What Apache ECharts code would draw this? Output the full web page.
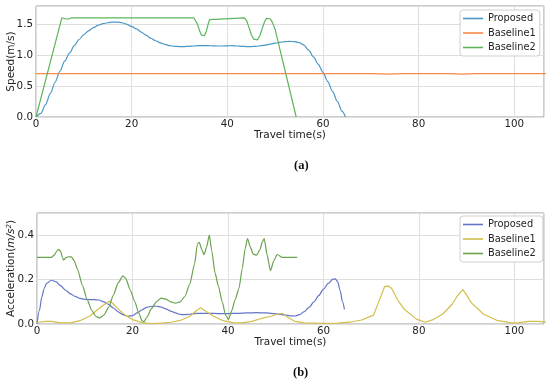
<!DOCTYPE html>
<html>
<head>
<meta charset="utf-8">
<script src="https://cdn.jsdelivr.net/npm/echarts@6/dist/echarts.min.js"></script>
<style>
html,body{margin:0;padding:0;background:#fff;}
#c{width:550px;height:386px;}
</style>
</head>
<body>
<div id="c"></div>
<script>
// ---------- data ----------
const seriesNames = ['Proposed', 'Baseline1', 'Baseline2'];
const xTicks = [0, 20, 40, 60, 80, 100];

// (a) speed, [time s, speed m/s]
const speedProposed = [[0,0],[1,0.06],[2,0.2],[3,0.38],[4,0.56],[5,0.74],[6,0.9],[7,1.03],[8,1.15],[9,1.25],[10,1.33],[11,1.39],[12,1.44],[13,1.48],[14,1.505],[15,1.52],[16,1.53],[17,1.53],[18,1.52],[19,1.495],[20,1.46],[21,1.42],[22,1.37],[23,1.32],[24,1.27],[25,1.23],[26,1.195],[27,1.17],[28,1.15],[29,1.14],[30,1.135],[31,1.135],[32,1.14],[33,1.145],[34,1.15],[35,1.152],[36,1.15],[37,1.148],[38,1.145],[39,1.145],[40,1.148],[41,1.15],[42,1.145],[43,1.14],[44,1.135],[45,1.135],[46,1.14],[47,1.15],[48,1.16],[49,1.175],[50,1.19],[51,1.205],[52,1.215],[53,1.22],[54,1.215],[55,1.2],[56,1.16],[57,1.08],[58,0.97],[59,0.85],[60,0.72],[61,0.57],[62,0.41],[63,0.25],[64,0.09],[64.7,0]];
const speedBaseline1 = [[0,0.7],[70,0.7],[72,0.695],[73.5,0.69],[75,0.695],[77,0.7],[86,0.7],[88,0.695],[89,0.69],[90.5,0.695],[92,0.7],[107,0.7]];
const speedBaseline2 = [[0,0],[5.4,1.6],[5.8,1.595],[6.2,1.58],[6.5,1.57],[6.9,1.58],[7.4,1.6],[33,1.6],[33.4,1.57],[33.8,1.49],[34.2,1.39],[34.6,1.32],[34.9,1.295],[35.2,1.31],[35.6,1.38],[36.0,1.5],[36.3,1.57],[36.6,1.6],[43.6,1.6],[44.0,1.56],[44.5,1.45],[45.0,1.33],[45.5,1.255],[45.9,1.232],[46.3,1.245],[46.8,1.31],[47.3,1.43],[47.8,1.54],[48.2,1.59],[48.6,1.6],[49.0,1.58],[49.4,1.53],[49.7,1.47],[50.0,1.41],[54.4,0]];

// (b) acceleration, [time s, acceleration m/s^2]
const accProposed = [[0,0],[0.5,0.06],[1,0.12],[1.5,0.16],[2,0.183],[3,0.197],[4,0.19],[5,0.172],[6,0.152],[7,0.136],[8,0.124],[9,0.115],[10,0.111],[11,0.11],[12,0.11],[13,0.108],[14,0.1],[15,0.088],[16,0.072],[17,0.055],[18,0.042],[19,0.035],[20,0.038],[21,0.05],[22,0.064],[23,0.075],[24,0.08],[25,0.08],[26,0.076],[27,0.068],[28,0.058],[29,0.05],[30,0.043],[31,0.042],[32,0.044],[33,0.047],[34,0.048],[36,0.048],[38,0.047],[40,0.047],[42,0.048],[44,0.05],[46,0.051],[48,0.05],[50,0.046],[52,0.04],[53,0.037],[54,0.036],[55,0.042],[56,0.056],[57,0.075],[58,0.1],[59,0.128],[60,0.157],[61,0.183],[62,0.202],[62.5,0.203],[63,0.19],[63.5,0.15],[64,0.1],[64.4,0.066]];
const accBaseline1 = [[0,0.008],[2,0.012],[3,0.012],[5,0.005],[7,0.005],[9,0.015],[11,0.035],[13,0.07],[14.5,0.095],[15.3,0.103],[16,0.09],[17,0.068],[18.5,0.04],[20,0.02],[22,0.006],[24,0.002],[26,0.004],[28,0.008],[30,0.016],[32,0.035],[33.5,0.062],[34.3,0.073],[35.5,0.055],[37,0.035],[39,0.015],[41,0.006],[43,0.005],[45,0.012],[47,0.025],[49,0.035],[50.5,0.045],[51.5,0.048],[52.5,0.03],[54,0.012],[56,0.005],[60,0.003],[63,0.004],[66,0.01],[68,0.018],[70.5,0.04],[72.8,0.168],[73.5,0.172],[74.3,0.16],[75.5,0.11],[77,0.065],[79.5,0.022],[81.3,0.008],[83,0.02],[85,0.045],[87,0.09],[88,0.125],[89.2,0.155],[90,0.13],[91,0.095],[93.5,0.045],[96.5,0.015],[99.5,0.005],[101,0.006],[103,0.012],[105,0.012],[107,0.008]];
const accBaseline2 = [[0,0.3],[1,0.3],[2,0.3],[3,0.3],[3.6,0.31],[4.2,0.33],[4.6,0.336],[5.0,0.325],[5.3,0.3],[5.6,0.288],[6.0,0.298],[6.6,0.303],[7.2,0.302],[7.8,0.285],[8.5,0.245],[9.5,0.175],[10.5,0.11],[11.5,0.06],[12.3,0.035],[13.1,0.027],[14,0.04],[15,0.075],[16,0.13],[17,0.185],[18,0.217],[18.6,0.205],[19.5,0.155],[20.5,0.1],[21.3,0.05],[22,0.015],[22.4,0.01],[23,0.03],[24,0.07],[25,0.1],[26,0.117],[27,0.112],[28,0.1],[29,0.094],[30,0.1],[31,0.125],[32,0.18],[33,0.27],[33.6,0.36],[34.0,0.368],[34.5,0.335],[35,0.312],[35.5,0.345],[36.1,0.4],[36.6,0.33],[37.3,0.23],[38,0.17],[38.8,0.1],[39.5,0.04],[40.1,0.02],[40.8,0.06],[41.5,0.11],[42.3,0.16],[43,0.25],[43.6,0.34],[44.1,0.385],[44.7,0.345],[45.3,0.315],[46,0.31],[46.7,0.335],[47.2,0.37],[47.6,0.385],[48.2,0.31],[48.9,0.24],[49.6,0.285],[50.3,0.313],[51.4,0.3],[54.5,0.3]];

// ---------- styling ----------
const topColors = ['#4a97c6', '#f7894a', '#5bb55b'];
const botColors = ['#6373c6', '#d3be4c', '#6aa24e'];
const txt = '#222';
const gridCol = '#dedede';
const borderCol = '#9a9a9a';
const tickFont = 10.3;
const labelFont = 10.5;

const chart = echarts.init(document.getElementById('c'), null, {renderer: 'canvas'});

function xAxisFor(gi) {
  return {
    type: 'value', gridIndex: gi, min: 0, max: 106.2, interval: 20,
    name: 'Travel time(s)', nameLocation: 'middle', nameGap: 11,
    nameTextStyle: {fontFamily: 'DejaVu Sans', fontSize: labelFont, color: txt},
    axisLine: {show: false}, axisTick: {show: false},
    axisLabel: {fontFamily: 'DejaVu Sans', fontSize: tickFont, color: txt, margin: 2, showMaxLabel: false,
      formatter: v => xTicks.includes(v) ? String(v) : ''},
    splitLine: {show: true, lineStyle: {color: gridCol, width: 1}}
  };
}

function yAxisFor(gi, max, step) {
  return {
    type: 'value', gridIndex: gi, min: 0, max: max, interval: step,
    axisLine: {show: false}, axisTick: {show: false},
    axisLabel: {fontFamily: 'DejaVu Sans', fontSize: tickFont, color: txt, margin: 3, showMaxLabel: false,
      formatter: v => (Math.abs(v / step - Math.round(v / step)) < 1e-6) ? v.toFixed(1) : ''},
    splitLine: {show: true, lineStyle: {color: gridCol, width: 1}}
  };
}

function line(name, data, color, xi, smooth) {
  return {
    type: 'line', name: name, data: data, xAxisIndex: xi, yAxisIndex: xi,
    showSymbol: false, symbol: 'none', smooth: smooth, smoothMonotone: 'x',
    lineStyle: {color: color, width: 1.2}, itemStyle: {color: color},
    animation: false
  };
}

function legendFor(names, top) {
  return {
    data: names, orient: 'vertical', left: 460, top: top,
    icon: 'rect', itemWidth: 20, itemHeight: 1.6, itemGap: 3.5,
    padding: [3, 4, 3, 3], borderColor: '#cfcfcf', borderWidth: 1, borderRadius: 3,
    backgroundColor: '#fff',
    textStyle: {fontFamily: 'DejaVu Sans', fontSize: 9.8, color: txt, lineHeight: 11},
    selectedMode: false
  };
}

const botNames = seriesNames.map(n => n + ' ');

const option = {
  backgroundColor: '#fff',
  animation: false,
  grid: [
    {left: 36, right: 6, top: 6, height: 111, show: true, borderColor: borderCol, borderWidth: 1, backgroundColor: 'transparent', containLabel: false, outerBoundsMode: 'none'},
    {left: 37, right: 6, top: 213, height: 111, show: true, borderColor: borderCol, borderWidth: 1, backgroundColor: 'transparent', containLabel: false, outerBoundsMode: 'none'}
  ],
  xAxis: [xAxisFor(0), xAxisFor(1)],
  yAxis: [yAxisFor(0, 1.79, 0.5), yAxisFor(1, 0.5, 0.2)],
  legend: [legendFor(seriesNames, 10), legendFor(botNames, 216)],
  series: [
    line(seriesNames[0], speedProposed, topColors[0], 0, 0.3),
    line(seriesNames[1], speedBaseline1, topColors[1], 0, false),
    line(seriesNames[2], speedBaseline2, topColors[2], 0, false),
    line(botNames[0], accProposed, botColors[0], 1, 0.3),
    line(botNames[1], accBaseline1, botColors[1], 1, false),
    line(botNames[2], accBaseline2, botColors[2], 1, 0.2)
  ],
  graphic: [
    {type: 'text', x: 11, y: 61.5, rotation: Math.PI / 2,
      style: {text: 'Speed(m/s)', align: 'center', verticalAlign: 'middle', fontFamily: 'DejaVu Sans', fontSize: labelFont, fill: txt}},
    {type: 'text', x: 11, y: 268.5, rotation: Math.PI / 2,
      style: {text: 'Acceleration({it|m/s}{sup|2})', align: 'center', verticalAlign: 'middle', fontFamily: 'DejaVu Sans', fontSize: labelFont, fill: txt,
        rich: {it: {fontFamily: 'DejaVu Sans', fontStyle: 'italic', fontSize: labelFont, fill: txt},
               sup: {fontFamily: 'DejaVu Sans', fontStyle: 'italic', fontSize: 7, fill: txt, verticalAlign: 'top', padding: [0, 0, 4, 0]}}}},
    {type: 'text', left: 294, top: 159, style: {text: '(a)', fontFamily: 'Liberation Serif', fontWeight: 'bold', fontSize: 12.5, fill: '#111'}},
    {type: 'text', left: 293, top: 366, style: {text: '(b)', fontFamily: 'Liberation Serif', fontWeight: 'bold', fontSize: 12.5, fill: '#111'}}
  ]
};
chart.setOption(option);
</script>
</body>
</html>
